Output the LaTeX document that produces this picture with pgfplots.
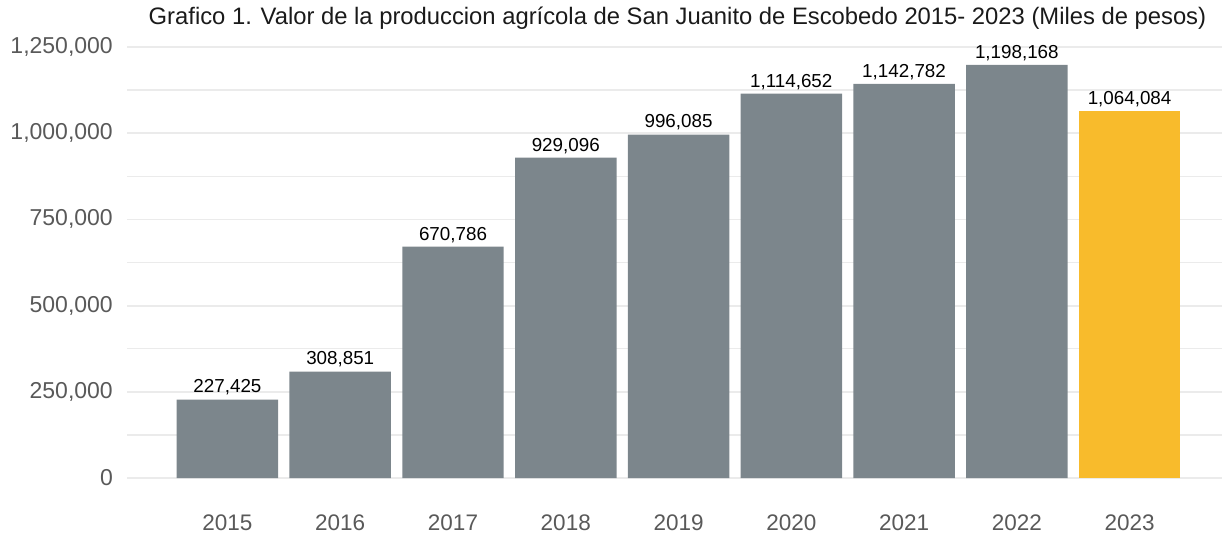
\documentclass[border=0pt]{standalone}
\usepackage{pgfplots}
\pgfplotsset{compat=1.18}
\usepackage{fontspec}
\setmainfont{Liberation Sans}
\definecolor{barGray}{HTML}{7C868C}
\definecolor{barGold}{HTML}{F8BB2C}
\definecolor{gridGray}{HTML}{EBEBEB}
\definecolor{tickGray}{HTML}{595959}
\definecolor{titleInk}{HTML}{1A1A1A}
\begin{document}
\begin{tikzpicture}
\useasboundingbox (-127pt,-58pt) rectangle (1098pt,478pt);
\begin{axis}[
  at={(0pt,0pt)}, anchor=south west,
  scale only axis,
  width=1095pt, height=431pt,
  xmin=-0.891, xmax=8.82,
  ymin=0, ymax=1250000,
  axis line style={draw=none},
  major tick length=0pt, minor tick length=0pt,
  xtick={0,...,8},
  xticklabels={2015,2016,2017,2018,2019,2020,2021,2022,2023},
  ytick={0,250000,500000,750000,1000000,1250000},
  minor ytick={125000,375000,625000,875000,1125000},
  ymajorgrids, yminorgrids,
  major grid style={gridGray, line width=1.8pt},
  minor grid style={gridGray, line width=1.4pt},
  scaled y ticks=false,
  /pgf/number format/assume math mode=true,
  yticklabel={\pgfmathprintnumber[fixed,precision=0,1000 sep={,}]{\tick}},
  yticklabel style={anchor=east, inner sep=0pt, xshift=-14pt,
    font=\fontsize{23}{27}\selectfont, text=tickGray},
  xticklabel style={anchor=base, inner sep=0pt, yshift=-52pt,
    font=\fontsize{22.5}{27}\selectfont, text=tickGray},
  ybar, bar width=0.9,
  nodes near coords={\pgfmathprintnumber[fixed,precision=0,1000 sep={,}]{\pgfplotspointmeta}},
  every node near coord/.append style={inner sep=0pt, yshift=4pt,
    font=\fontsize{18.8}{22}\selectfont, text=black},
  clip=false,
]
\addplot+[/pgf/bar shift=0pt, fill=barGray, draw=none] coordinates {
(0,227425)
(1,308851)
(2,670786)
(3,929096)
(4,996085)
(5,1114652)
(6,1142782)
(7,1198168)
};
\addplot+[/pgf/bar shift=0pt, fill=barGold, draw=none] coordinates {
(8,1064084)
};
\end{axis}
\node[anchor=base, inner sep=0pt, text=titleInk, font=\fontsize{23.8}{28}\selectfont]
  at (550.5pt,453pt) {Grafico 1. Valor de la produccion agrícola de San Juanito de Escobedo 2015- 2023 (Miles de pesos)};
\end{tikzpicture}
\end{document}
